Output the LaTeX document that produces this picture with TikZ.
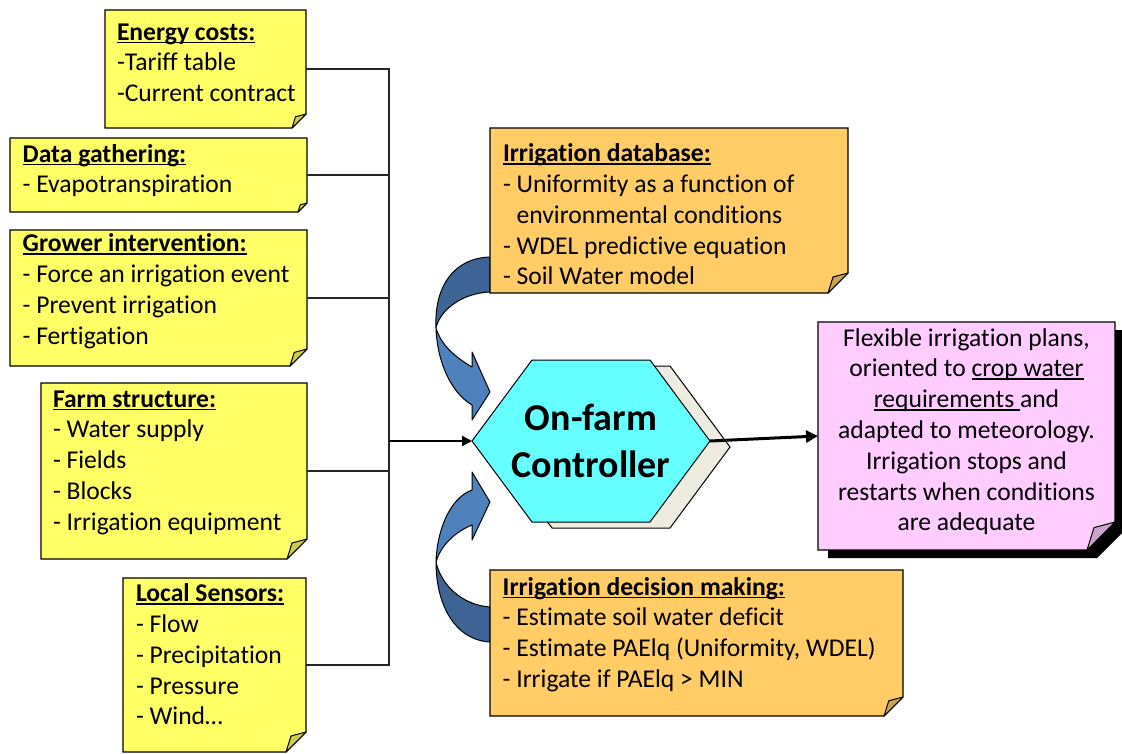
\documentclass[tikz,border=0pt]{standalone}
\usepackage{fontspec}
\setmainfont{Carlito}[Ligatures=NoCommon]
\usetikzlibrary{calc,arrows.meta}
\definecolor{noteY}{HTML}{FFFF66}
\definecolor{foldY}{HTML}{CCCC52}
\definecolor{noteO}{HTML}{FFCC66}
\definecolor{foldO}{HTML}{CCA352}
\definecolor{noteP}{HTML}{FFCCFF}
\definecolor{foldP}{HTML}{CCA3CC}
\definecolor{hexC}{HTML}{66FFFF}
\definecolor{hexS}{HTML}{EEECE1}
\definecolor{arrL}{HTML}{4F81BD}
\definecolor{arrD}{HTML}{3D6494}
\newcommand\myul[1]{\setbox0\hbox{#1}\rlap{\rule[-3pt]{\wd0}{1.5pt}}\box0}
\newcommand\leftlines[1]{\vtop{\halign{##\hfil\cr#1\crcr}}}
\newcommand\centerlines[1]{\vtop{\halign{\hfil##\hfil\cr#1\crcr}}}
\newcommand\notepaint[4]{%
  \path[fill=#2, draw=black, line width=1.3pt] (#1.north west) -- (#1.north east) -- ($(#1.south east)+(0,-#4)$) -- ($(#1.south east)+(-#4,0)$) -- (#1.south west) -- cycle;
  \path[fill=#3, draw=black, line width=1pt, line join=round] ($(#1.south east)+(0,-#4)$) -- ($(#1.south east)+(-#4,0)$) -- ($(#1.south east)+(-0.75*#4,-0.8*#4)$) -- cycle;
}
\newcommand\hexpaint[3]{% node, fill, offset
  \path[fill=#2, draw=black, line width=1pt] ($(#1.west)+#3$) -- ($(#1.north west)+(60,0)+#3$) -- ($(#1.north east)+(-60,0)+#3$) -- ($(#1.east)+#3$) -- ($(#1.south east)+(-60,0)+#3$) -- ($(#1.south west)+(60,0)+#3$) -- cycle;
}
\tikzset{
  box/.style={inner sep=0pt, outer sep=0pt, draw=none},
  txt/.style={inner sep=0pt, outer sep=0pt, font=\fontsize{25.6}{30.8}\selectfont},
  conn/.style={draw=black!85, line width=1.3pt},
  curvearrow/.style={draw=black, line width=1pt, line join=round}
}
\begin{document}
\begin{tikzpicture}[x=1pt,y=-1pt]
\useasboundingbox (0,0) rectangle (1122,753);

% ---- left notes ----
\node[box, minimum width=201pt, minimum height=118pt] (energy) at (205.5,69) {};
\notepaint{energy}{noteY}{foldY}{14}
\node[txt, anchor=base west] (energyT) at (117,40) {\leftlines{\textbf{\myul{Energy costs:}}\cr -Tariff table\cr -Current contract}};

\node[box, minimum width=297pt, minimum height=74pt] (data) at (158.5,175) {};
\notepaint{data}{noteY}{foldY}{9}
\node[txt, anchor=base west] (dataT) at (22.7,162) {\leftlines{\textbf{\myul{Data gathering:}}\cr - Evapotranspiration}};

\node[box, minimum width=297pt, minimum height=136pt] (grower) at (158.5,298) {};
\notepaint{grower}{noteY}{foldY}{17}
\node[txt, anchor=base west] (growerT) at (22.7,251.7) {\leftlines{\textbf{\myul{Grower intervention:}}\cr - Force an irrigation event\cr - Prevent irrigation\cr - Fertigation}};

\node[box, minimum width=266pt, minimum height=176pt] (farm) at (174,471) {};
\notepaint{farm}{noteY}{foldY}{20}
\node[txt, anchor=base west] (farmT) at (53,407) {\leftlines{\textbf{\myul{Farm structure:}}\cr - Water supply\cr - Fields\cr - Blocks\cr - Irrigation equipment}};

\node[box, minimum width=183pt, minimum height=174pt] (sensors) at (214.5,665) {};
\notepaint{sensors}{noteY}{foldY}{20}
\node[txt, anchor=base west] (sensorsT) at (136,601.7) {\leftlines{\textbf{\myul{Local Sensors:}}\cr - Flow\cr - Precipitation\cr - Pressure\cr - Wind…}};

% ---- connectors into hub ----
\coordinate (hub) at (389,441);
\draw[conn] (energy.east) -| (hub);
\draw[conn] (data.east) -| (hub);
\draw[conn] (grower.east) -| (hub);
\draw[conn] (farm.east) -| (hub);
\draw[conn] (sensors.east) -| (hub);

% ---- curved arrows ----
\path[curvearrow, fill=arrD] (490,257) .. controls (455,258) and (434,285) .. (436,328)
   .. controls (440,310) and (462,293) .. (490,292) -- cycle;
\path[curvearrow, fill=arrL] (436,328) .. controls (437,360) and (450,392) .. (472,405)
   -- (472,420) -- (490,392) -- (472,352) -- (472,367)
   .. controls (455,357) and (441,345) .. (436,328) -- cycle;
\path[curvearrow, fill=arrL] (436,562) .. controls (437,530) and (450,498) .. (472,490)
   -- (472,472) -- (490,502) -- (472,540) -- (472,525)
   .. controls (455,532) and (441,545) .. (436,562) -- cycle;
\path[curvearrow, fill=arrD] (436,562) .. controls (436,605) and (455,640) .. (490,642)
   -- (490,607) .. controls (462,605) and (441,585) .. (436,562) -- cycle;

% ---- orange notes ----
\node[box, minimum width=358pt, minimum height=165pt] (db) at (669,210.5) {};
\notepaint{db}{noteO}{foldO}{20}
\node[txt, anchor=base west] (dbT) at (503,161.7) {\leftlines{\textbf{\myul{Irrigation database:}}\cr - Uniformity as a function of\cr \hphantom{- }environmental conditions\cr - WDEL predictive equation\cr - Soil Water model}};

\node[box, minimum width=413pt, minimum height=146pt] (decision) at (696.5,643) {};
\notepaint{decision}{noteO}{foldO}{19}
\node[txt, anchor=base west] (decisionT) at (502.7,595) {\leftlines{\textbf{\myul{Irrigation decision making:}}\cr - Estimate soil water deficit\cr - Estimate PAElq (Uniformity, WDEL)\cr - Irrigate if PAElq > MIN}};

% ---- controller ----
\node[box, minimum width=238pt, minimum height=162pt] (ctrl) at (591,441) {};
\hexpaint{ctrl}{hexS}{(20,6)}
\hexpaint{ctrl}{hexC}{(0,0)}
\node[inner sep=0pt, font=\bfseries\fontsize{38}{47}\selectfont, anchor=base] (ctrlT) at (591,430) {\centerlines{On-farm\cr Controller}};

% ---- result note ----
\node[box, minimum width=297pt, minimum height=228pt] (result) at (966.5,436) {};
\path[fill=black] ($(result.north west)+(10,8)$) -- ($(result.north east)+(10,8)$) -- ($(result.south east)+(10,-20)$) -- ($(result.south east)+(-18,8)$) -- ($(result.south west)+(10,8)$) -- cycle;
\notepaint{result}{noteP}{foldP}{28}
\node[txt, anchor=base] (resultT) at (966.5,346) {\centerlines{Flexible irrigation plans,\cr oriented to \myul{crop water}\cr \myul{requirements\ }and\cr adapted to meteorology.\cr Irrigation stops and\cr restarts when conditions\cr are adequate}};

% ---- arrows to / from controller ----
\draw[line width=2pt, -{Triangle[length=10pt,width=10pt]}] (hub) -- (ctrl.west);
\draw[line width=3pt, -{Triangle[length=12pt,width=12pt]}] (ctrl.east) -- (result.west);
\end{tikzpicture}
\end{document}
